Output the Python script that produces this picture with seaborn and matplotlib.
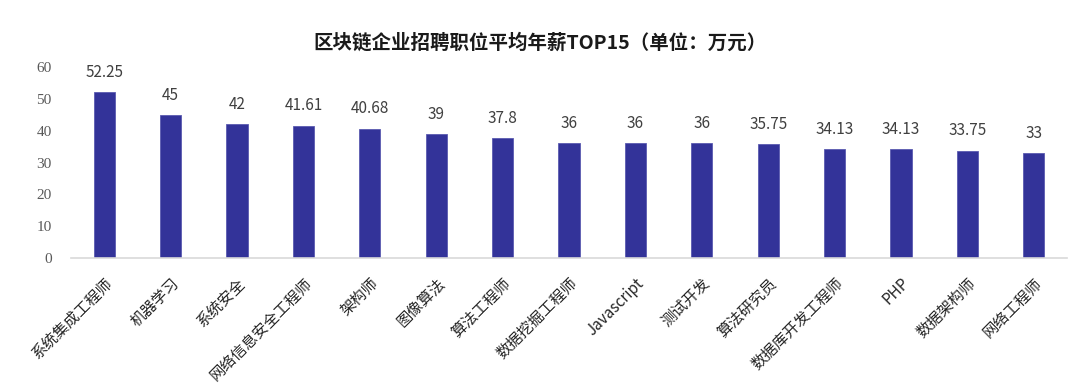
import matplotlib
matplotlib.use("Agg")
import matplotlib.pyplot as plt
import seaborn as sns
import pandas as pd

categories = ["系统集成工程师", "机器学习", "系统安全", "网络信息安全工程师", "架构师", "图像算法",
              "算法工程师", "数据挖掘工程师", "Javascript", "测试开发", "算法研究员",
              "数据库开发工程师", "PHP", "数据架构师", "网络工程师"]
values = [52.25, 45, 42, 41.61, 40.68, 39, 37.8, 36, 36, 36, 35.75, 34.13, 34.13, 33.75, 33]
labels = ["52.25", "45", "42", "41.61", "40.68", "39", "37.8", "36", "36", "36", "35.75",
          "34.13", "34.13", "33.75", "33"]
yticks = [0, 10, 20, 30, 40, 50, 60]
title = "区块链企业招聘职位平均年薪TOP15（单位：万元）"

sns.set_theme(style="white")
plt.rcParams['font.family'] = ['Noto Sans CJK SC', 'DejaVu Sans']

df = pd.DataFrame({"cat": categories, "val": values})

fig = plt.figure(figsize=(10.8, 3.91), dpi=100)
ax = fig.add_axes([0.0657, 0.340, 0.9223, 0.4886])
sns.barplot(data=df, x="cat", y="val", color="#333399", width=0.32, ax=ax,
            saturation=1, edgecolor="#5a5ab0", linewidth=0.6)

ax.set_ylim(0, 60)
ax.set_xlim(-0.5, len(categories) - 0.5)
ax.set_yticks(yticks)
ax.set_yticklabels([str(t) for t in yticks], family=['Liberation Serif'], color="#595959", fontsize=11)
ax.set_xlabel("")
ax.set_ylabel("")
ax.tick_params(axis="both", length=0)
ax.tick_params(axis="y", pad=14)
ax.tick_params(axis="x", pad=12)
for lab in ax.get_xticklabels():
    lab.set_rotation(45)
    lab.set_ha("right")
    lab.set_rotation_mode("anchor")
    lab.set_fontsize(11)
    lab.set_color("#262626")

for s in ["top", "right", "left"]:
    ax.spines[s].set_visible(False)
ax.spines["bottom"].set_color("#d9d9d9")
ax.spines["bottom"].set_linewidth(1.2)

ax.bar_label(ax.containers[0], labels=labels, padding=8, fontsize=11, color="#404040")

fig.text(0.5, 0.89, title, ha="center", va="center", fontsize=14, fontweight="bold", color="#1a1a1a")

fig.savefig("out.png", dpi=100, facecolor="white")
